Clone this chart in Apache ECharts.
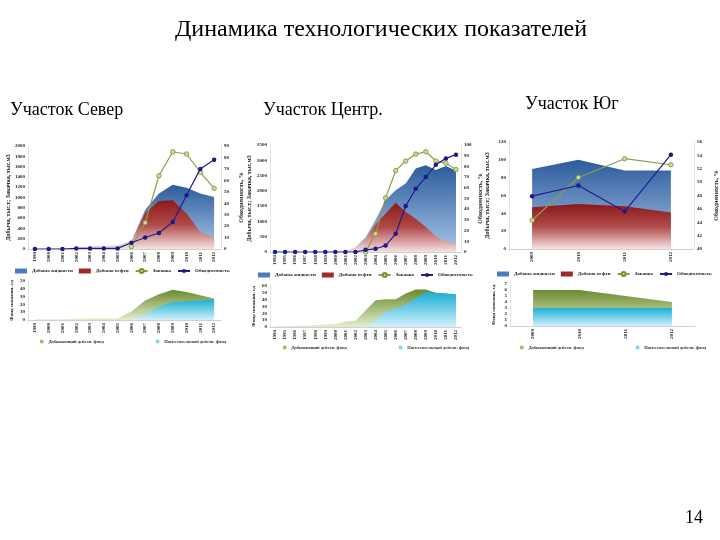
<!DOCTYPE html>
<html><head><meta charset="utf-8">
<script src="https://cdn.jsdelivr.net/npm/echarts@6/dist/echarts.min.js"></script>
<style>html,body{margin:0;padding:0;background:#fff}#c{width:720px;height:540px}</style>
</head><body><div id="c"></div>
<script>
// ---- Data ----
const years1 = ['1999','2000','2001','2002','2003','2004','2005','2006','2007','2008','2009','2010','2011','2012'];
const liquid1 = [0,0,10,25,45,60,65,150,760,1080,1250,1190,1080,1010];
const oil1    = [0,0,10,25,45,60,65,140,700,930,945,690,330,220];
const inj1    = [null,null,null,null,null,null,null,2,23,64,85,83,67,53];
const wc1     = [0,0,0,0.5,0.5,0.5,0.5,5.5,10,14,23.5,47,70,78];
const prod1   = [1,1,1,1.5,2,2,2,11,25,33,38.7,36,31.7,27.5];
const injw1   = [null,null,null,null,null,null,null,0,7.5,17,23,24,25,26];

const years2 = ['1994','1995','1996','1997','1998','1999','2000','2001','2002','2003','2004','2005','2006','2007','2008','2009','2010','2011','2012'];
const liquid2 = [0,0,0,0,0,0,5,30,150,480,1050,1700,2020,2240,2730,2840,2680,2810,2660];
const oil2    = [0,0,0,0,0,0,5,30,150,420,900,1260,1610,1310,1090,820,510,350,250];
const inj2    = [null,null,null,null,null,null,null,null,null,0,17,50.6,76,85,91.5,93.7,85,83,77];
const wc2     = [0,0,0,0,0,0,0,0,0,2,3,6,17,43,59,70,81.5,87.5,91];
const prod2   = [1,1.5,2,2,3,3.5,4,8,9,24,39,40.5,40.5,49,55,55,50,49,48];
const injw2   = [null,null,null,null,null,null,null,null,null,0,10.5,22.5,27,33,42,50.5,49.5,48.5,47.5];

const years3 = ['2009','2010','2011','2012'];
const liquid3 = [89.7,100,88,88];
const oil3    = [46.7,50.5,47.9,41];
const inj3    = [44.3,50.7,53.5,52.6];
const wc3     = [47.9,49.5,45.6,54.1];
const prod3   = [6,6,5,4];
const injw3   = [3,3,3,3];

const NAMES = ['Добыча жидкости','Добыча нефти','Закачка','Обводненность'];
const FNAMES = ['Добывающий действ. фонд','Нагнетательный действ. фонд'];

// ---- Styles ----
const SERIF = 'Liberation Serif';
const lab = {fontSize:5, fontFamily:SERIF, fontWeight:'bold', color:'#222', formatter:v=>String(v)};
const grad = (a,b,m) => ({type:'linear',x:0,y:0,x2:0,y2:1,colorStops:m?[{offset:0,color:a},{offset:0.5,color:m},{offset:1,color:b}]:[{offset:0,color:a},{offset:1,color:b}]});
const BLUE = grad('#2C5B9C','#A9C5E8');
const RED = grad('#8A1919','#F6E2E2','#B14A4A');
const GREEN = grad('#6A8A2E','#E3EDCD');
const CYAN = grad('#1AAFD6','#D3F1FA');

const grids = [
  {left:28, width:193, top:146, height:103},
  {left:270, width:191, top:145, height:107},
  {left:509, width:187, top:142, height:107},
  {left:28, width:193, top:281, height:39},
  {left:270, width:191, top:286, height:41},
  {left:510, width:185, top:284, height:42}
];

function xAx(gi, data){
  return {type:'category', gridIndex:gi, data:data, boundaryGap:true,
    axisLine:{lineStyle:{color:'#D0D0D0'}}, axisTick:{show:false},
    axisLabel:Object.assign({}, lab, {rotate:90, interval:0, margin:3, formatter:null})};
}
function yAx(gi, min, max, step, pos, name, gap){
  return {type:'value', gridIndex:gi, min:min, max:max, interval:step, position:pos,
    splitLine:{show:false}, axisLine:{show:true, lineStyle:{color:'#E4E4E4'}}, axisTick:{show:false},
    axisLabel:Object.assign({margin:3}, lab),
    name:name, nameLocation:'middle', nameRotate:90, nameGap:gap,
    nameTextStyle:{fontSize:6, fontFamily:SERIF, fontWeight:'bold', color:'#222'}};
}

const xAxis = [xAx(0,years1), xAx(1,years2), xAx(2,years3), xAx(3,years1), xAx(4,years2), xAx(5,years3)];
const LNAME = 'Добыча, тыс.т; Закачка, тыс.м3';
const RNAME = 'Обводненность, %';
const yAxis = [
  yAx(0,0,2000,200,'left',LNAME,17), yAx(0,0,90,10,'right',RNAME,17),
  yAx(1,0,3500,500,'left',LNAME,18), yAx(1,0,100,10,'right',RNAME,16),
  yAx(2,0,120,20,'left',LNAME,19), yAx(2,40,56,2,'right',RNAME,19),
  yAx(3,0,50,10,'left','Фонд скважин, ед',14),
  yAx(4,0,60,10,'left','Фонд скважин, ед',14),
  yAx(5,0,7,1,'left','Фонд скважин, ед',14)
];
yAxis[6].nameTextStyle.fontSize = 5; yAxis[7].nameTextStyle.fontSize = 5; yAxis[8].nameTextStyle.fontSize = 5;

const series = [];
function area(name, xi, yi, data, color, legendColor){
  series.push({name:name, type:'line', xAxisIndex:xi, yAxisIndex:yi, data:data, symbol:'none',
    lineStyle:{width:0}, itemStyle:{color:legendColor}, areaStyle:{color:color, opacity:1}});
}
function injLine(xi, yi, data){
  series.push({name:NAMES[2], type:'line', xAxisIndex:xi, yAxisIndex:yi, data:data, symbol:'circle', symbolSize:4.5,
    lineStyle:{width:1.2, color:'#8C9E45'}, itemStyle:{color:'#C9DA98', borderColor:'#7D8F35', borderWidth:0.8}, z:3});
}
function wcLine(xi, yi, data){
  series.push({name:NAMES[3], type:'line', xAxisIndex:xi, yAxisIndex:yi, data:data, symbol:'circle', symbolSize:4.5,
    lineStyle:{width:1.2, color:'#1E1E96'}, itemStyle:{color:'#1B1B85'}, z:4});
}
function addTopChart(xi, yl, yr, liq, oil, inj, wc){
  area(NAMES[0], xi, yl, liq, BLUE, '#4A7CC0');
  area(NAMES[1], xi, yl, oil, RED, '#9E2A2A');
  injLine(xi, yr, inj);
  wcLine(xi, yr, wc);
}
addTopChart(0,0,1,liquid1,oil1,inj1,wc1);
addTopChart(1,2,3,liquid2,oil2,inj2,wc2);
addTopChart(2,4,5,liquid3,oil3,inj3,wc3);
area(FNAMES[0],3,6,prod1,GREEN,'#A4BC6E'); area(FNAMES[1],3,6,injw1,CYAN,'#7FD3EC');
area(FNAMES[0],4,7,prod2,GREEN,'#A4BC6E'); area(FNAMES[1],4,7,injw2,CYAN,'#7FD3EC');
area(FNAMES[0],5,8,prod3,GREEN,'#A4BC6E'); area(FNAMES[1],5,8,injw3,CYAN,'#7FD3EC');

const legText = {fontSize:5, fontFamily:SERIF, fontWeight:'bold', color:'#222'};
function topLegend(left, t){
  return {left:left, top:t, width:300, itemWidth:12, itemHeight:5, itemGap:6, textStyle:legText, selectedMode:false, padding:0,
    data:[{name:NAMES[0],icon:'rect'},{name:NAMES[1],icon:'rect'},NAMES[2],NAMES[3]]};
}
function fundLegend(left, t, gap){
  return {left:left, top:t, width:250, itemWidth:3.5, itemHeight:3.5, itemGap:gap, data:FNAMES, icon:'rect',
    textStyle:{fontSize:4.5, fontFamily:SERIF, fontWeight:'bold', color:'#333'}, selectedMode:false, padding:0};
}

const txt = (x,y,s,size,align) => ({type:'text', left:x, top:y, style:{text:s, font:size+'px "'+SERIF+'"', fill:'#000', textAlign:align||'left'}});

const option = {
  animation:false,
  backgroundColor:'#fff',
  graphic:[
    txt(175,18,'Динамика технологических показателей',24),
    txt(10,101,'Участок Север',18),
    txt(263,101,'Участок Центр.',18),
    txt(525,95,'Участок Юг',18),
    txt(685,509,'14',18)
  ],
  legend:[topLegend(15,268), topLegend(258,272), topLegend(497,271),
          fundLegend(40,339,52), fundLegend(283,345,52), fundLegend(520,345,52)],
  grid:grids, xAxis:xAxis, yAxis:yAxis, series:series
};
echarts.init(document.getElementById('c')).setOption(option);
</script></body></html>
